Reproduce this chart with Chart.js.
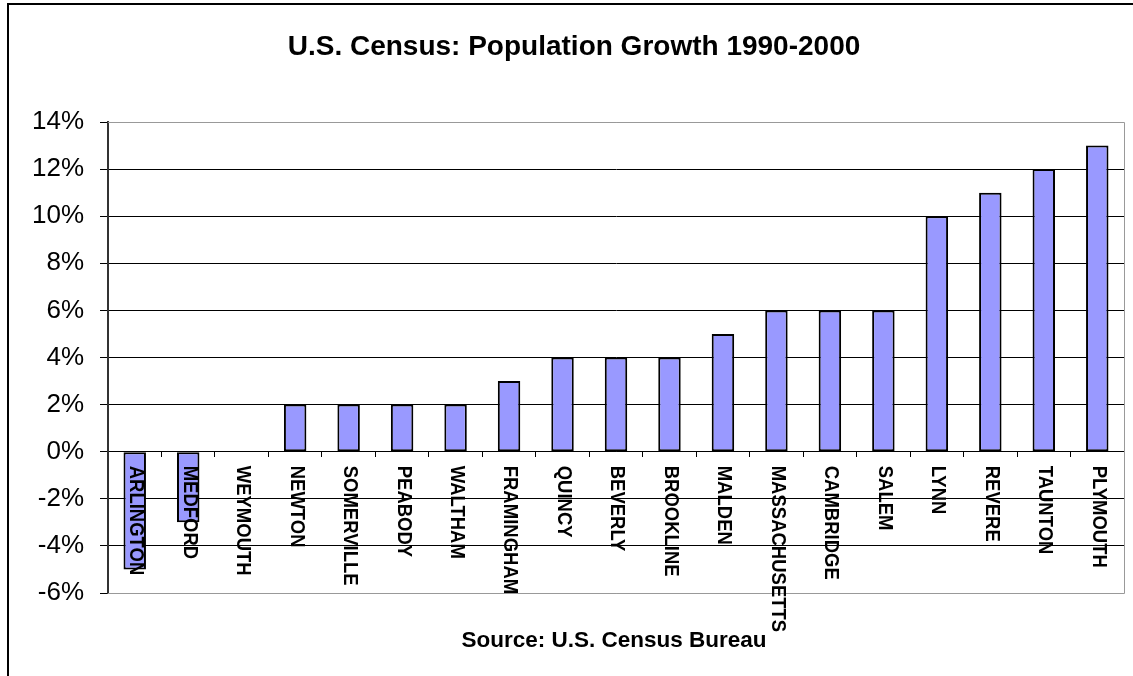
<!DOCTYPE html>
<html lang="en">
<head>
    <meta charset="UTF-8">
    <title>U.S. Census: Population Growth 1990-2000</title>
    <script src="https://cdn.jsdelivr.net/npm/chart.js"></script>
    <style>
        body {
            margin: 0;
            padding: 0;
            background-color: #fff;
        }

        .chart-box {
            width: 1133px;
            height: 676px;
        }
    </style>
</head>
<body>

    <div class="chart-box">
        <canvas id="growthChart"></canvas>
    </div>

    <script>
        // Cities ordered by growth, 1990-2000
        var cities = ['ARLINGTON', 'MEDFORD', 'WEYMOUTH', 'NEWTON', 'SOMERVILLE', 'PEABODY', 'WALTHAM',
            'FRAMINGHAM', 'QUINCY', 'BEVERLY', 'BROOKLINE', 'MALDEN', 'MASSACHUSETTS', 'CAMBRIDGE',
            'SALEM', 'LYNN', 'REVERE', 'TAUNTON', 'PLYMOUTH'];
        var growth = [-5, -3, 0, 2, 2, 2, 2, 3, 4, 4, 4, 5, 6, 6, 6, 10, 11, 12, 13];

        // Y axis range (percent)
        var yMin = -6;
        var yMax = 14;
        var yStep = 2;

        var chartTitle = 'U.S. Census: Population Growth 1990-2000';
        var sourceNote = 'Source: U.S. Census Bureau';

        var fontFamily = "'Liberation Sans', Arial, sans-serif";

        // Frame, plot border, title, source and rotated city names
        var decorations = {
            id: 'decorations',
            beforeDraw: function (chart) {
                var c = chart.ctx;
                c.save();
                c.strokeStyle = '#000';
                c.lineWidth = 2;
                c.beginPath();
                c.moveTo(8, 676);
                c.lineTo(8, 4);
                c.lineTo(1133, 4);
                c.stroke();

                c.fillStyle = '#000';
                c.textAlign = 'center';
                c.textBaseline = 'alphabetic';
                c.font = 'bold 28px ' + fontFamily;
                c.fillText(chartTitle, 574, 55);
                c.font = 'bold 22.5px ' + fontFamily;
                c.fillText(sourceNote, 614, 647);
                c.restore();
            },
            beforeDatasetsDraw: function (chart) {
                var a = chart.chartArea;
                var c = chart.ctx;
                c.save();
                c.strokeStyle = '#999';
                c.lineWidth = 1;
                c.beginPath();
                c.moveTo(a.left, Math.round(a.top) + 0.5);
                c.lineTo(Math.round(a.right) + 0.5, Math.round(a.top) + 0.5);
                c.lineTo(Math.round(a.right) + 0.5, Math.round(a.bottom) + 0.5);
                c.lineTo(a.left, Math.round(a.bottom) + 0.5);
                c.stroke();
                c.restore();
            },
            afterDatasetsDraw: function (chart) {
                var c = chart.ctx;
                var xs = chart.scales.x;
                var y0 = chart.scales.y.getPixelForValue(0);
                c.save();
                c.fillStyle = '#000';
                c.font = 'bold 18.5px ' + fontFamily;
                c.textAlign = 'left';
                c.textBaseline = 'middle';
                cities.forEach(function (name, i) {
                    c.save();
                    c.translate(xs.getPixelForValue(i) + 1, y0 + 14);
                    c.rotate(Math.PI / 2);
                    // slightly taller glyphs, as in the original export
                    c.scale(1, 1.1);
                    c.fillText(name, 0, 0);
                    c.restore();
                });
                c.restore();
            }
        };

        var ctx = document.getElementById('growthChart').getContext('2d');
        var growthChart = new Chart(ctx, {
            type: 'bar',
            data: {
                labels: cities,
                datasets: [{
                    label: 'Growth',
                    data: growth,
                    backgroundColor: '#9999ff',
                    borderColor: '#000',
                    borderWidth: 2,
                    borderSkipped: false,
                    barPercentage: 0.42,
                    categoryPercentage: 1.0
                }]
            },
            options: {
                responsive: true,
                maintainAspectRatio: false,
                animation: false,
                layout: {
                    padding: { top: 122, right: 9, bottom: 83, left: 0 }
                },
                plugins: {
                    legend: { display: false },
                    title: { display: false },
                    tooltip: { enabled: false }
                },
                scales: {
                    x: {
                        position: { y: 0 },
                        ticks: { display: false },
                        grid: {
                            drawOnChartArea: false,
                            drawTicks: true,
                            tickLength: 5,
                            tickColor: '#000'
                        },
                        border: { display: true, color: '#000', width: 1 }
                    },
                    y: {
                        min: yMin,
                        max: yMax,
                        afterFit: function (scale) {
                            scale.width = 108;
                        },
                        ticks: {
                            stepSize: yStep,
                            padding: 16,
                            color: '#000',
                            font: { family: fontFamily, size: 26 },
                            callback: function (v) { return v + '%'; }
                        },
                        grid: {
                            color: function (c) {
                                return (c.tick && (c.tick.value === yMax || c.tick.value === yMin)) ? '#999' : '#000';
                            },
                            tickColor: '#000',
                            tickLength: 8,
                            lineWidth: 1
                        },
                        border: { display: true, color: '#333', width: 2 }
                    }
                }
            },
            plugins: [decorations]
        });
    </script>

</body>
</html>
